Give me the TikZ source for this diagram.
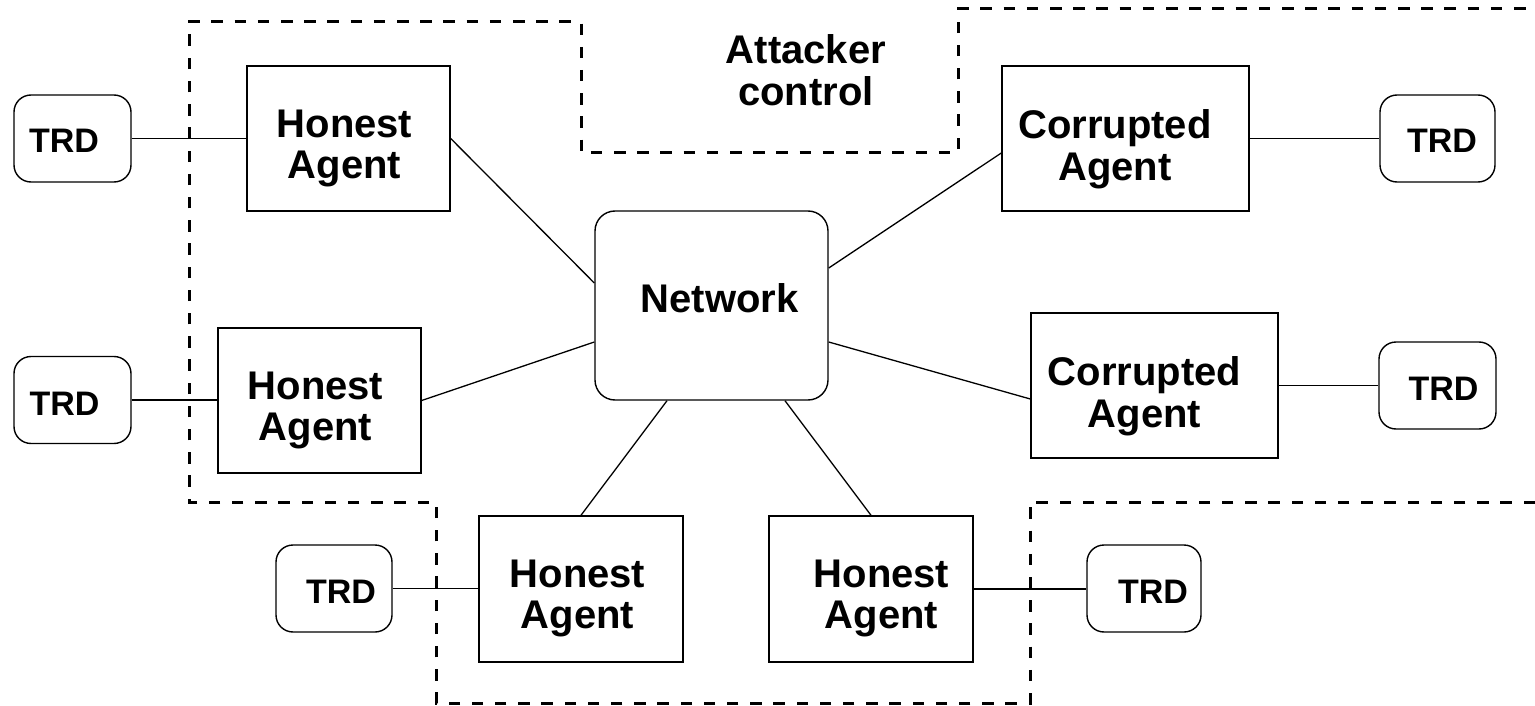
\documentclass[tikz,border=0pt]{standalone}
\usepackage{fontspec}
\setmainfont{Liberation Sans}
\begin{document}
\begin{tikzpicture}[x=1pt,y=-1pt,
  agentbox/.style={draw, line width=1.4pt, rectangle, inner sep=0pt},
  trdbox/.style={draw, line width=1.4pt, rectangle, rounded corners=17pt, inner sep=0pt,
    minimum width=117pt, minimum height=87pt},
  netbox/.style={draw, line width=1.4pt, rectangle, rounded corners=20pt, inner sep=0pt},
  bigtxt/.style={inner sep=0pt, anchor=north, align=center,
    font=\fontsize{40}{41.7}\selectfont\bfseries},
  trdtxt/.style={inner sep=0pt, anchor=base, font=\fontsize{34}{36}\selectfont\bfseries},
  link/.style={line width=1.3pt},
  region/.style={line width=3pt, dash pattern=on 11.5pt off 11.7pt}]
\useasboundingbox (0,0) rectangle (1535,706);

% boundary of the attacker-controlled part
\draw[region] (1535,502) -- (1030,502) -- (1030,703) -- (436,703) -- (436,502)
  -- (189,502) -- (189,22) -- (581,22) -- (581,153) -- (958,153) -- (958,9) -- (1535,9);
\node[bigtxt] (atk) at (806,34.4) {Attacker\\control};

% network
\node[netbox, minimum width=233pt, minimum height=189pt] (net) at (711.5,305.5) {};
\node[bigtxt] (nett) at (719.5,283.4) {Network};

% honest agents
\node[agentbox, minimum width=203pt, minimum height=145pt] (hA) at (348.5,138.5) {};
\node[bigtxt] (hAt) at (344.5,109.4) {Honest\\Agent};
\node[agentbox, minimum width=203pt, minimum height=145pt] (hB) at (319.5,400.5) {};
\node[bigtxt] (hBt) at (315.5,371.4) {Honest\\Agent};
\node[agentbox, minimum width=204pt, minimum height=146pt] (hC) at (581,589) {};
\node[bigtxt] (hCt) at (577.5,559.4) {Honest\\Agent};
\node[agentbox, minimum width=204pt, minimum height=146pt] (hD) at (871,589) {};
\node[bigtxt] (hDt) at (881.5,559.4) {Honest\\Agent};

% corrupted agents
\node[agentbox, minimum width=247pt, minimum height=145pt] (cA) at (1125.5,138.5) {};
\node[bigtxt] (cAt) at (1115,109.4) {Corrupted\\Agent};
\node[agentbox, minimum width=247pt, minimum height=145pt] (cB) at (1154.5,385.5) {};
\node[bigtxt] (cBt) at (1144.5,356.4) {Corrupted\\Agent};

% tamper-resistant devices
\node[trdbox] (tA) at (72.5,138.5) {};
\node[trdtxt] (tAt) at (64,153) {TRD};
\node[trdbox] (tB) at (72.5,400) {};
\node[trdtxt] (tBt) at (64.5,415) {TRD};
\node[trdbox, minimum width=116pt] (tC) at (334,588.5) {};
\node[trdtxt] (tCt) at (341,603) {TRD};
\node[trdbox, minimum width=114pt] (tD) at (1144,588.5) {};
\node[trdtxt] (tDt) at (1153,603) {TRD};
\node[trdbox, minimum width=115pt] (tE) at (1437.5,138.5) {};
\node[trdtxt] (tEt) at (1442,153) {TRD};
\node[trdbox] (tF) at (1437.5,385.5) {};
\node[trdtxt] (tFt) at (1443.5,400) {TRD};

% device links
\draw[link] (tA.east) -- (tA.east -| hA.west);
\draw[link] (tB.east) -- (tB.east -| hB.west);
\draw[link] (tC.east) -- (tC.east -| hC.west);
\draw[link] (hD.east) -- (hD.east -| tD.west);
\draw[link] (cA.east) -- (cA.east -| tE.west);
\draw[link] (cB.east) -- (cB.east -| tF.west);

% network links
\draw[link] (hA.east) -- ([yshift=22.5pt]net.west);
\draw[link] (hB.east) -- ([yshift=-36.5pt]net.west);
\draw[link] (hC.north) -- ([xshift=-44.5pt]net.south);
\draw[link] (hD.north) -- ([xshift=73.5pt]net.south);
\draw[link] ([yshift=-14.5pt]cA.west) -- ([yshift=37.5pt]net.east);
\draw[link] ([yshift=-13.5pt]cB.west) -- ([yshift=-36.5pt]net.east);
\end{tikzpicture}
\end{document}
